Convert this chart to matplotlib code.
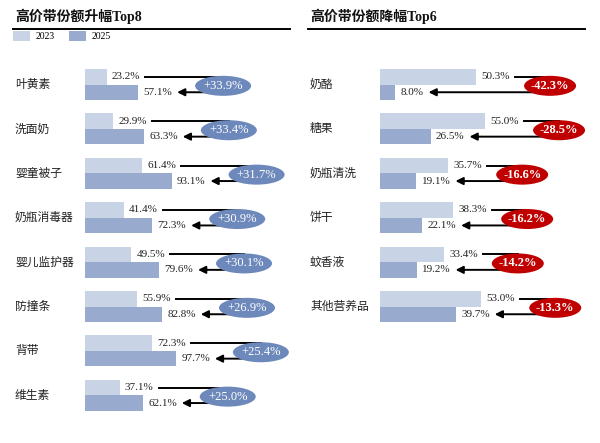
import matplotlib
matplotlib.use('Agg')
import matplotlib.pyplot as plt
from matplotlib.patches import Ellipse
import matplotlib.transforms as mtrans

# ---------------- data ----------------
up_cats = ['叶黄素', '洗面奶', '婴童被子', '奶瓶消毒器', '婴儿监护器', '防撞条', '背带', '维生素']
up_2023 = [23.2, 29.9, 61.4, 41.4, 49.5, 55.9, 72.3, 37.1]
up_2025 = [57.1, 63.3, 93.1, 72.3, 79.6, 82.8, 97.7, 62.1]
up_change = ['+33.9%', '+33.4%', '+31.7%', '+30.9%', '+30.1%', '+26.9%', '+25.4%', '+25.0%']

down_cats = ['奶酪', '糖果', '奶瓶清洗', '饼干', '蚊香液', '其他营养品']
down_2023 = [50.3, 55.0, 35.7, 38.3, 33.4, 53.0]
down_2025 = [8.0, 26.5, 19.1, 22.1, 19.2, 39.7]
down_change = ['-42.3%', '-28.5%', '-16.6%', '-16.2%', '-14.2%', '-13.3%']

legend_labels = ['2023', '2025']
titles = ['高价带份额升幅Top8', '高价带份额降幅Top6']

# ---------------- style ----------------
C23 = '#c9d3e6'
C25 = '#98aacd'
CBLUE = '#6d88bb'
CRED = '#c00000'
SERIF = ['Liberation Serif', 'Noto Sans CJK SC']
CJK = ['Noto Sans CJK SC', 'DejaVu Sans']

W, H = 600, 443
fig = plt.figure(figsize=(W / 100, H / 100), dpi=100)
fig.patch.set_facecolor('white')

row_px = 44.4
bar_px = 15.5
top_px = 84.5 - row_px / 2
ax_h = row_px * 8


def make_ax(x0, width_px, px_per_unit):
    ax = fig.add_axes([x0 / W, 1 - (top_px + ax_h) / H, width_px / W, ax_h / H])
    ax.set_xlim(0, width_px / px_per_unit)
    ax.set_ylim(7.5, -0.5)
    ax.axis('off')
    return ax


axL = make_ax(85, 215, 0.93)
axR = make_ax(380, 215, 1.91)

h = bar_px / row_px


def draw_panel(ax, cats, v23, v25, label_x):
    ys = list(range(len(cats)))
    b1 = ax.barh([y - h / 2 for y in ys], v23, height=h, color=C23, label=legend_labels[0])
    b2 = ax.barh([y + h / 2 for y in ys], v25, height=h, color=C25, label=legend_labels[1])
    lab_tr = mtrans.blended_transform_factory(fig.transFigure, ax.transData)
    t23, t25 = [], []
    for y, c, a, b in zip(ys, cats, v23, v25):
        ax.text(label_x / W, y, c, transform=lab_tr, ha='left', va='center',
                fontsize=8.5, family=CJK, color='#222222')
        t23.append(ax.annotate(f'{a:.1f}%', (a, y - h / 2), xytext=(3.8, 0), textcoords='offset points',
                               ha='left', va='center', fontsize=8, family=SERIF, color='#222222'))
        t25.append(ax.annotate(f'{b:.1f}%', (b, y + h / 2), xytext=(3.8, 0), textcoords='offset points',
                               ha='left', va='center', fontsize=8, family=SERIF, color='#222222'))
    return ys, t23, t25, (b1, b2)


ysL, t23L, t25L, handles = draw_panel(axL, up_cats, up_2023, up_2025, 15)
ysR, t23R, t25R, _ = draw_panel(axR, down_cats, down_2023, down_2025, 310)

fig.canvas.draw()
renderer = fig.canvas.get_renderer()


def finish(ax, ys, v23, v25, t23, t25, changes, ecolor, bold, off_px, ew, eh):
    inv = ax.transData.inverted()
    sx = ax.transData.transform((1, 0))[0] - ax.transData.transform((0, 0))[0]
    sy = abs(ax.transData.transform((0, 1))[1] - ax.transData.transform((0, 0))[1])
    for y, a, b, ta, tb, ch in zip(ys, v23, v25, t23, t25, changes):
        ex = max(a, b) + off_px / sx
        ra = inv.transform((ta.get_window_extent(renderer).x1 + 5, 0))[0]
        rb = inv.transform((tb.get_window_extent(renderer).x1 + 5, 0))[0]
        ax.plot([ra, ex], [y - h / 2, y - h / 2], color='black', lw=1.4, clip_on=False, zorder=3)
        ax.annotate('', xy=(rb, y + h / 2), xytext=(ex, y + h / 2),
                    arrowprops=dict(arrowstyle='-|>', color='black', lw=1.4, mutation_scale=11,
                                    shrinkA=0, shrinkB=0), annotation_clip=False, zorder=3)
        e = Ellipse((ex, y + 0.03), ew / sx, eh / sy, facecolor=ecolor, edgecolor='none',
                    clip_on=False, zorder=4)
        ax.add_patch(e)
        ax.text(ex, y + 0.03, ch, ha='center', va='center', color='white', fontsize=9,
                family=SERIF, fontweight='bold' if bold else 'normal', zorder=5, clip_on=False)


finish(axL, ysL, up_2023, up_2025, t23L, t25L, up_change, CBLUE, False, 85, 56, 20)
finish(axR, ysR, down_2023, down_2025, t23R, t25R, down_change, CRED, True, 74, 52, 20)

# titles and rules
for x0, x1, t in [(13, 290, titles[0]), (308, 585, titles[1])]:
    fig.text((x0 + 2) / W, 1 - 16 / H, t, ha='left', va='center', fontsize=10,
             fontweight='bold', family=SERIF, color='#111111')
    fig.add_artist(plt.Line2D([x0 / W, x1 / W], [1 - 29 / H, 1 - 29 / H], color='black', lw=1.4))

# legend
leg = fig.legend(handles, legend_labels, loc='upper left', bbox_to_anchor=(13 / W, 1 - 31 / H),
                 bbox_transform=fig.transFigure, ncol=2, frameon=False,
                 prop={'family': SERIF, 'size': 7}, handlelength=1.7, handleheight=1.2,
                 handletextpad=0.6, columnspacing=1.5, borderpad=0, borderaxespad=0)

fig.savefig('out.png', dpi=100, facecolor='white')
